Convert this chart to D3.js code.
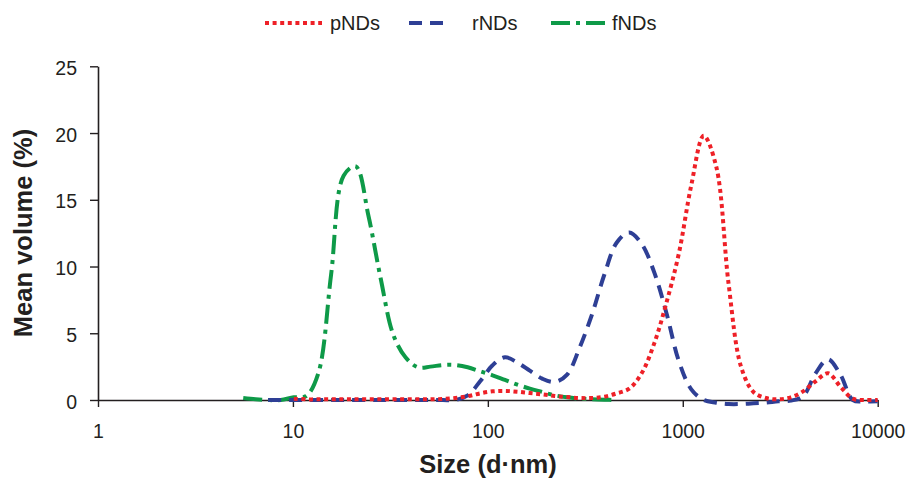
<!DOCTYPE html>
<html><head><meta charset="utf-8">
<script src="https://cdn.jsdelivr.net/npm/d3@7"></script>
<style>
html,body{margin:0;padding:0;background:#fff;}
svg{display:block;font-family:"Liberation Sans",Arial,Helvetica,sans-serif;}
</style></head>
<body><svg id="chart" width="909" height="478"></svg>
<script>
// Size bins (d.nm)
const sizes = [5.56, 6.44, 7.46, 8.65, 10.1, 11.7, 13.5, 15.7, 18.2, 21.0, 24.4, 28.2, 32.7, 37.8, 43.8, 50.7, 58.8, 68.1, 78.8, 91.3, 105.7, 122.4, 141.8, 164.2, 190.1, 220.2, 255.0, 295.3, 342.0, 396.1, 458.7, 531.2, 615.1, 712.4, 825.0, 955.4, 1106, 1281, 1484, 1718, 1990, 2305, 2669, 3091, 3580, 4145, 4801, 5560, 6439, 7456, 8635, 10000];
const pNDs = [null, null, null, null, 0.1, 0.05, 0.05, 0.05, 0.05, 0.05, 0.05, 0.05, 0.05, 0.05, 0.05, 0.05, 0.08, 0.15, 0.28, 0.5, 0.65, 0.68, 0.62, 0.52, 0.42, 0.3, 0.22, 0.15, 0.15, 0.25, 0.5, 0.85, 2.0, 4.2, 7.3, 11.0, 16.1, 19.8, 17.5, 8.7, 2.5, 0.6, 0.15, 0.05, 0.2, 0.65, 1.4, 2.0, 1.0, 0.1, 0, 0];
const rNDs = [null, null, 0, 0, 0, 0, 0, 0, 0, 0, 0, 0, 0, 0, 0, 0, 0, 0, 0.35, 1.4, 2.6, 3.2, 2.8, 2.2, 1.6, 1.35, 1.9, 3.9, 6.4, 9.4, 11.8, 12.55, 11.7, 9.6, 6.5, 2.9, 0.8, 0, -0.2, -0.3, -0.3, -0.25, -0.2, -0.1, -0.05, 0.3, 2.0, 3.05, 1.9, 0, -0.1, -0.1];
const fNDs = [0.15, 0.06, 0, 0, 0.2, 0.3, 2.0, 9.4, 16.8, 17.5, 13.8, 9.1, 4.9, 3.2, 2.45, 2.5, 2.62, 2.62, 2.45, 2.15, 1.85, 1.5, 1.15, 0.85, 0.6, 0.35, 0.2, 0.1, 0.05, 0.02, 0.0, null, null, null, null, null, null, null, null, null, null, null, null, null, null, null, null, null, null, null, null, null];
const seriesNames = ["pNDs", "rNDs", "fNDs"];
const xTicks = [1, 10, 100, 1000, 10000];
const yTicks = [0, 5, 10, 15, 20, 25];

const colors = {pNDs: "#ee2027", rNDs: "#2e3f95", fNDs: "#0e9a48"};
const dashes = {pNDs: "4,3.6", rNDs: "13,8", fNDs: "19,6,4,6"};
const valuesBy = {pNDs, rNDs, fNDs};

const svg = d3.select("#chart");
const x = d3.scaleLog().domain([1, 10000]).range([98, 877.7]);
const y = d3.scaleLinear().domain([0, 25]).range([400, 66.3]);

// axes
const xAxis = svg.append("g").attr("transform", "translate(0,400)")
  .call(d3.axisBottom(x).tickValues(xTicks).tickFormat(d3.format("d")).tickSize(7).tickSizeOuter(0).tickPadding(17));
const yAxis = svg.append("g").attr("transform", "translate(98,0)")
  .call(d3.axisLeft(y).tickValues(yTicks).tickSize(8).tickSizeOuter(0).tickPadding(13));
[xAxis, yAxis].forEach(g => {
  g.selectAll("path.domain").attr("stroke", "#231f20").attr("stroke-width", 1.6);
  g.selectAll(".tick line").attr("stroke", "#231f20").attr("stroke-width", 1.4);
  g.selectAll(".tick text").attr("fill", "#231f20").style("font-size", "19.5px").style("font-family", "'Liberation Sans',Arial,sans-serif");
});
yAxis.selectAll(".tick text").attr("dy", "0.42em");

// lines (fNDs drawn first, pNDs on top)
const line = d3.line()
  .defined(d => d.v !== null)
  .x(d => x(d.s)).y(d => y(d.v))
  .curve(d3.curveCatmullRom.alpha(0.5));
["fNDs", "rNDs", "pNDs"].forEach(name => {
  const data = sizes.map((s, i) => ({s, v: valuesBy[name][i]}));
  svg.append("path").datum(data)
    .attr("fill", "none")
    .attr("stroke", colors[name])
    .attr("stroke-width", 4)
    .attr("stroke-dasharray", dashes[name])
    .attr("d", line);
});

// axis titles
svg.append("text").attr("x", 488).attr("y", 473).attr("text-anchor", "middle")
  .style("font-size", "25.5px").style("font-weight", "bold").attr("fill", "#231f20")
  .text("Size (d·nm)");
svg.append("text").attr("transform", "translate(32,233) rotate(-90)").attr("text-anchor", "middle")
  .style("font-size", "25.5px").style("font-weight", "bold").attr("fill", "#231f20")
  .text("Mean volume (%)");

// legend
const legendItems = [
  {name: "pNDs", x1: 265, x2: 322, tx: 330},
  {name: "rNDs", x1: 409, x2: 451, tx: 472},
  {name: "fNDs", x1: 551, x2: 607, tx: 612}
];
const lg = svg.append("g");
legendItems.forEach(it => {
  lg.append("line").attr("x1", it.x1).attr("x2", it.x2).attr("y1", 23).attr("y2", 23)
    .attr("stroke", colors[it.name]).attr("stroke-width", 4).attr("stroke-dasharray", dashes[it.name]);
  lg.append("text").attr("x", it.tx).attr("y", 30).style("font-size", "20px").attr("fill", "#231f20").text(it.name);
});
</script></body></html>
